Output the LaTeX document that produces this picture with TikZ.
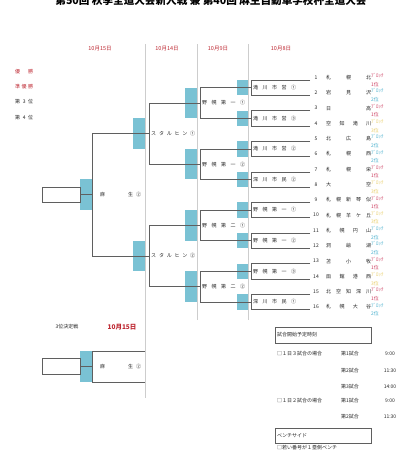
\documentclass[tikz,border=0pt]{standalone}
\usepackage{fontspec}
\setmainfont{Noto Sans CJK JP}
\definecolor{rkA}{RGB}{205,60,95}
\definecolor{rkB}{RGB}{70,175,205}
\definecolor{rkC}{RGB}{232,205,100}
\definecolor{hdr}{RGB}{190,40,50}
\definecolor{bbox}{RGB}{122,194,212}
\definecolor{ln}{RGB}{95,95,95}
\definecolor{sep}{RGB}{205,205,205}
\newcommand\spr[2]{\makebox[#1][s]{#2}}
\begin{document}
\begin{tikzpicture}[x=1pt,y=-1pt,
  lnk/.style={draw=ln,line width=0.6pt},
  blu/.style={fill=bbox},
  sepl/.style={draw=sep,line width=0.8pt},
  tx/.style={font=\fontsize{5}{6}\selectfont,inner sep=0pt,text=black!85},
  hd/.style={font=\fontsize{5.5}{6}\selectfont,inner sep=0pt,text=hdr},
  rkl/.style={font=\fontsize{4.9}{8.5}\selectfont,inner sep=0pt,align=left,anchor=west}]
\useasboundingbox (0,0) rectangle (416,450);
\fill[white] (0,0) rectangle (416,450);
% title
\node[font=\fontsize{10.6}{12}\selectfont\bfseries,anchor=base,inner sep=0pt] (title) at (211,4.5) {第50回 秋季全道大会新人戦 兼 第40回 麻生自動車学校杯全道大会};
% separators
\coordinate (s1t) at (145,44); \coordinate (s1b) at (145,398);
\coordinate (s2t) at (197,44); \coordinate (s2b) at (197,320);
\coordinate (s3t) at (248,44); \coordinate (s3b) at (248,320);
\draw[sepl] (s1t)--(s1b); \draw[sepl] (s2t)--(s2b); \draw[sepl] (s3t)--(s3b);
% dates
\node[hd] (d1) at (100,49) {10月15日};
\node[hd] (d2) at (167,49) {10月14日};
\node[hd] (d3) at (218,49) {10月9日};
\node[hd] (d4) at (281,49) {10月8日};
% legend
\node[tx,text=hdr,anchor=west] (l1) at (15,72) {\spr{18pt}{優\hfill{}勝}};
\node[tx,text=hdr,anchor=west] (l2) at (15,87) {\spr{18pt}{準\hfill{}優\hfill{}勝}};
\node[tx,anchor=west] (l3) at (15,102) {\spr{18pt}{第\hfill{}3\hfill{}位}};
\node[tx,anchor=west] (l4) at (15,118) {\spr{18pt}{第\hfill{}4\hfill{}位}};
% teams
\foreach \k/\nm/\rk/\rc in {
 1/札\hfill{}幌\hfill{}北/1/rkA,
 2/岩\hfill{}見\hfill{}沢/2/rkB,
 3/日\hfill{}高/1/rkA,
 4/空\hfill{}知\hfill{}滝\hfill{}川/3/rkC,
 5/北\hfill{}広\hfill{}島/2/rkB,
 6/札\hfill{}幌\hfill{}西/2/rkB,
 7/札\hfill{}幌\hfill{}栄/1/rkA,
 8/大\hfill{}空/3/rkC,
 9/札\hfill{}幌\hfill{}新\hfill{}琴\hfill{}似/1/rkA,
 10/札\hfill{}幌\hfill{}羊\hfill{}ケ\hfill{}丘/3/rkC,
 11/札\hfill{}幌\hfill{}円\hfill{}山/2/rkB,
 12/洞\hfill{}爺\hfill{}湖/2/rkB,
 13/苫\hfill{}小\hfill{}牧/1/rkA,
 14/函\hfill{}館\hfill{}港\hfill{}西/3/rkC,
 15/北\hfill{}空\hfill{}知\hfill{}深\hfill{}川/1/rkA,
 16/札\hfill{}幌\hfill{}大\hfill{}谷/2/rkB}{
  \pgfmathsetmacro\ty{80+(\k-1)*15.3}
  \coordinate (te\k) at (310,\ty);
  \node[tx] (tn\k) at (316,\ty-2.5) {\k};
  \node[tx,anchor=west] (tm\k) at (326,\ty-2.5) {\spr{45pt}{\nm}};
  \node[rkl,text=\rc] (tr\k) at (371,\ty) {ﾌﾞﾛｯｸ\\\rk{}位};
}
% round 1
\foreach \j/\lb in {
 1/滝\hfill{}川\hfill{}市\hfill{}営\hfill{}①,
 2/滝\hfill{}川\hfill{}市\hfill{}営\hfill{}③,
 3/滝\hfill{}川\hfill{}市\hfill{}営\hfill{}②,
 4/深\hfill{}川\hfill{}市\hfill{}民\hfill{}②,
 5/野\hfill{}幌\hfill{}第\hfill{}一\hfill{}①,
 6/野\hfill{}幌\hfill{}第\hfill{}一\hfill{}②,
 7/野\hfill{}幌\hfill{}第\hfill{}一\hfill{}③,
 8/深\hfill{}川\hfill{}市\hfill{}民\hfill{}①}{
  \pgfmathsetmacro\ya{80+(2*\j-2)*15.3}
  \pgfmathsetmacro\yb{\ya+15.3}
  \pgfmathsetmacro\ym{\ya+7.65}
  \fill[blu] (237,\ya) rectangle (248,\yb);
  \draw[lnk] (310,\ya) -- (251,\ya) -- (251,\yb) -- (310,\yb);
  \node[tx,anchor=west] (p\j) at (253,\ym) {\spr{43pt}{\lb}};
}
% round 2
\foreach \i/\lb in {
 1/野\hfill{}幌\hfill{}第\hfill{}一\hfill{}①,
 2/野\hfill{}幌\hfill{}第\hfill{}一\hfill{}②,
 3/野\hfill{}幌\hfill{}第\hfill{}二\hfill{}①,
 4/野\hfill{}幌\hfill{}第\hfill{}二\hfill{}②}{
  \pgfmathsetmacro\ya{80+(4*\i-3.5)*15.3}
  \pgfmathsetmacro\yb{80+(4*\i-1.5)*15.3}
  \pgfmathsetmacro\ym{80+(4*\i-2.5)*15.3}
  \fill[blu] (185,\ya) rectangle (197,\yb);
  \draw[lnk] (251,\ya) -- (200,\ya) -- (200,\yb) -- (251,\yb);
  \node[tx,anchor=west] (q\i) at (202,\ym) {\spr{43pt}{\lb}};
}
% round 3
\foreach \h/\lb in {
 1/ス\hfill{}タ\hfill{}ル\hfill{}ヒ\hfill{}ン\hfill{}①,
 2/ス\hfill{}タ\hfill{}ル\hfill{}ヒ\hfill{}ン\hfill{}②}{
  \pgfmathsetmacro\ya{80+(8*\h-6.5)*15.3}
  \pgfmathsetmacro\yb{80+(8*\h-2.5)*15.3}
  \pgfmathsetmacro\ym{80+(8*\h-4.5)*15.3}
  \fill[blu] (133,\ym-15.3) rectangle (145,\ym+15.3);
  \draw[lnk] (200,\ya) -- (149,\ya) -- (149,\yb) -- (200,\yb);
  \node[tx,anchor=west] (r\h) at (151,\ym) {\spr{44pt}{\lb}};
}
% final
\fill[blu] (80,179.45) rectangle (92,210.05);
\draw[lnk] (149,133.55) -- (92,133.55) -- (92,255.95) -- (149,255.95);
\draw[lnk] (80,194.75) -- (92,194.75);
\draw[lnk] (42,187.1) rectangle (80,202.4);
\node[tx,anchor=west] (fin) at (100,194.75) {\spr{41pt}{麻\hfill{}生\hspace{3pt}②}};
% third place
\node[tx] (th) at (67,327) {3位決定戦};
\node[font=\fontsize{6.5}{7}\selectfont\bfseries,inner sep=0pt,text=hdr] (thd) at (122,327) {10月15日};
\fill[blu] (80,351) rectangle (92,382);
\draw[lnk] (145,351) -- (92,351) -- (92,382) -- (145,382);
\draw[lnk] (80,366.5) -- (92,366.5);
\draw[lnk] (42,358.7) rectangle (80,374.3);
\node[tx,anchor=west] (thw) at (100,366.5) {\spr{41pt}{麻\hfill{}生\hspace{3pt}②}};
% schedule
\draw[lnk] (275,327) rectangle (371,343);
\node[tx,anchor=west] (sc0) at (277,335) {試合開始予定時刻};
\node[tx,anchor=west] (sc1) at (277,354) {□１日３試合の場合};
\node[tx,anchor=west] (g11) at (341,354) {第1試合};
\node[tx] (t11) at (390,354) {9:00};
\node[tx,anchor=west] (g12) at (341,371) {第2試合};
\node[tx] (t12) at (390,371) {11:30};
\node[tx,anchor=west] (g13) at (341,387) {第3試合};
\node[tx] (t13) at (390,387) {14:00};
\node[tx,anchor=west] (sc2) at (277,401) {□１日２試合の場合};
\node[tx,anchor=west] (g21) at (341,401) {第1試合};
\node[tx] (t21) at (390,401) {9:00};
\node[tx,anchor=west] (g22) at (341,417) {第2試合};
\node[tx] (t22) at (390,417) {11:30};
\draw[lnk] (275,428) rectangle (371,443);
\node[tx,anchor=west] (bs) at (277,435.5) {ベンチサイド};
\node[tx,anchor=west] (bs2) at (277,448) {□若い番号が１塁側ベンチ};
\end{tikzpicture}
\end{document}
